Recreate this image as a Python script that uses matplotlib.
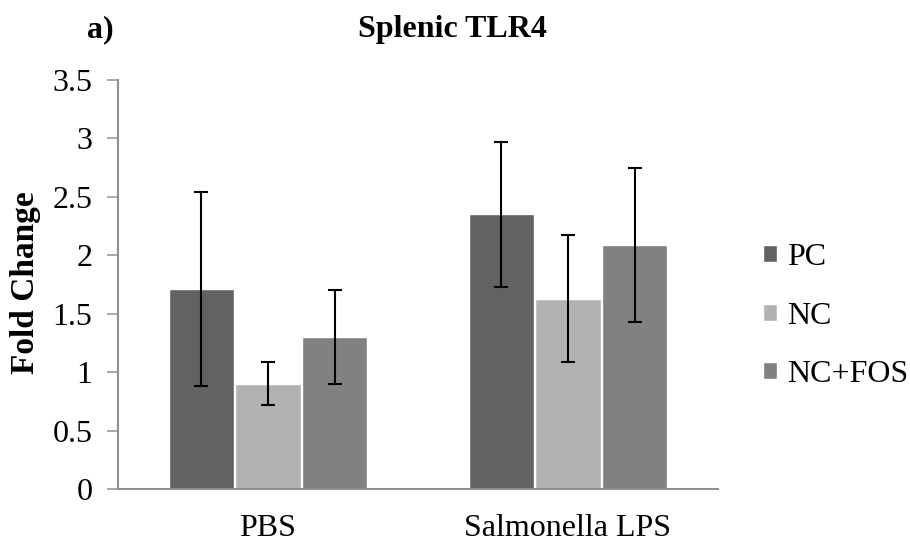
import matplotlib
matplotlib.use("Agg")
import matplotlib.pyplot as plt
import numpy as np

categories = ["PBS", "Salmonella LPS"]
groups = ["PC", "NC", "NC+FOS"]
means = {
    "PC": [1.71, 2.35],
    "NC": [0.90, 1.63],
    "NC+FOS": [1.30, 2.09],
}
errors = {
    "PC": [0.83, 0.62],
    "NC": [0.185, 0.54],
    "NC+FOS": [0.40, 0.66],
}
colors = {"PC": "#626262", "NC": "#b2b2b2", "NC+FOS": "#818181"}
yticks = [0, 0.5, 1, 1.5, 2, 2.5, 3, 3.5]
ytick_labels = ["0", "0.5", "1", "1.5", "2", "2.5", "3", "3.5"]

plt.rcParams['font.family'] = ['Liberation Serif', 'DejaVu Serif']

fig = plt.figure(figsize=(9.1, 5.44), dpi=100)
ax = fig.add_axes([118/910, 1 - 489/544, 600/910, (489 - 80)/544])

x = np.arange(len(categories))
w = 0.217
step = 0.223
for i, g in enumerate(groups):
    ax.bar(x + (i - 1) * step, means[g], w, color=colors[g], edgecolor="white",
           linewidth=1.0, label=g, zorder=2)
    ax.errorbar(x + (i - 1) * step, means[g], yerr=errors[g], fmt="none",
                ecolor="black", elinewidth=1.5, capsize=5, capthick=1.5, zorder=3)

ax.set_xlim(-0.5, 1.5)
ax.set_ylim(0, 3.5)
ax.set_yticks(yticks)
ax.set_yticklabels(ytick_labels)
ax.set_xticks(x)
ax.set_xticklabels(categories)
ax.tick_params(axis="y", labelsize=23, length=8, color="#999999", width=1.2, pad=10.5)
ax.tick_params(axis="x", labelsize=23, length=0, pad=18)
for s in ["top", "right"]:
    ax.spines[s].set_visible(False)
for s in ["left", "bottom"]:
    ax.spines[s].set_color("#909090")
    ax.spines[s].set_linewidth(1.5)

fig.text(26/910, 1 - 283/544, "Fold Change", fontsize=24, fontweight="bold",
         rotation=90, ha="center", va="center")
fig.text(452/910, 1 - 30/544, "Splenic TLR4", fontsize=23, fontweight="bold",
         ha="center", va="center")
fig.text(100/910, 1 - 30/544, "a)", fontsize=23, fontweight="bold",
         ha="center", va="center")

ax.legend(loc="center left", bbox_to_anchor=(763/910, 1 - 316/544),
          bbox_transform=fig.transFigure, frameon=False, fontsize=23,
          handlelength=0.44, handleheight=0.44, handletextpad=0.31,
          labelspacing=0.92, borderpad=0.0, borderaxespad=0.0)

fig.savefig("out.png", dpi=100)
